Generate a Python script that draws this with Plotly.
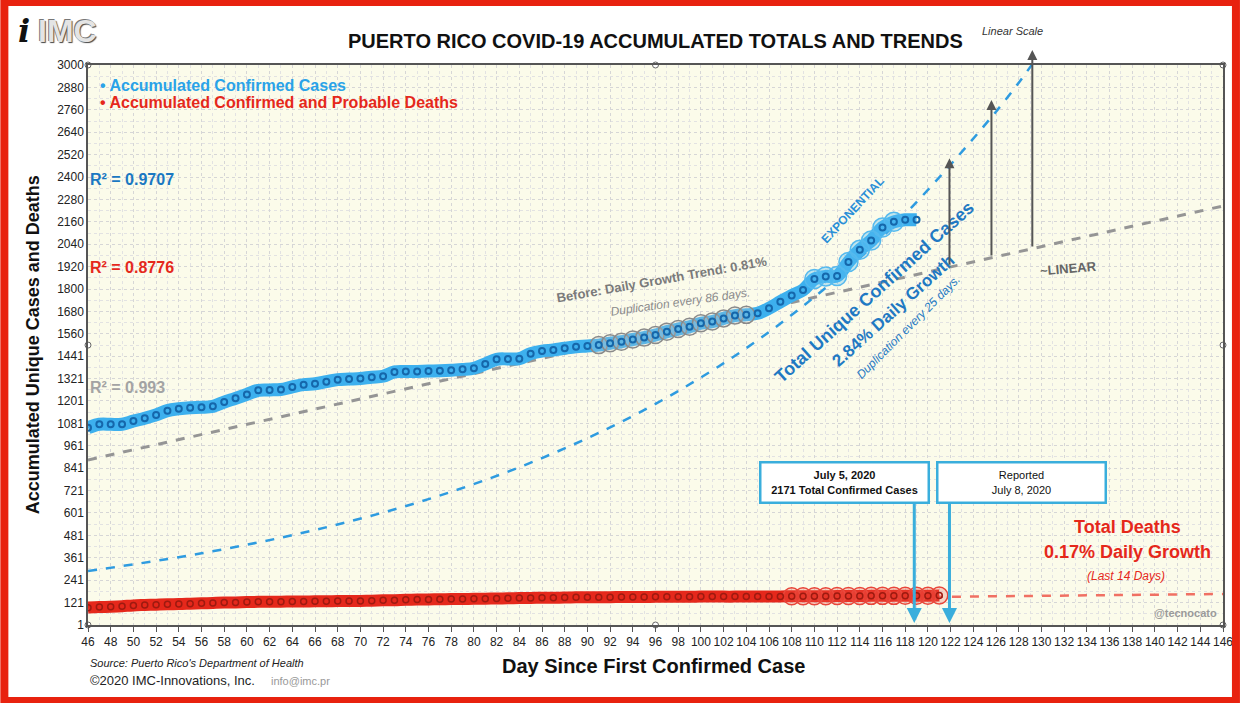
import plotly.graph_objects as go

# ---------------- data ----------------
case_days = list(range(46, 120))
cases = [1057, 1076, 1076, 1076, 1093, 1108, 1126, 1149, 1159, 1165,
         1167, 1172, 1195, 1215, 1236, 1258, 1260, 1262, 1276, 1288,
         1293, 1304, 1315, 1318, 1321, 1328, 1333, 1356, 1358, 1359,
         1361, 1362, 1365, 1370, 1376, 1399, 1424, 1426, 1427, 1454,
         1468, 1474, 1483, 1491, 1495, 1500, 1510, 1518, 1530, 1540,
         1554, 1572, 1586, 1598, 1617, 1626, 1643, 1658, 1662, 1670,
         1697, 1732, 1766, 1795, 1854, 1868, 1870, 1945, 2010, 2060,
         2130, 2160, 2171, 2171]

death_days = list(range(46, 122))
deaths = [94, 97, 99, 102, 106, 108, 110, 112, 113, 115,
          117, 119, 121, 122, 124, 125, 126, 126, 127, 127,
          128, 128, 129, 129, 130, 131, 133, 134, 136, 137,
          138, 139, 140, 140, 141, 142, 143, 144, 145, 146,
          147, 147, 148, 149, 150, 150, 150, 151, 151, 151,
          152, 152, 152, 152, 153, 153, 153, 153, 154, 154,
          154, 154, 155, 155, 155, 155, 156, 156, 156, 157,
          157, 157, 158, 158, 158, 159]

grey_circle_days = list(range(91, 105))
blue_circle_days = list(range(110, 118))
red_circle_days = list(range(108, 122))

linear_days = [46, 146]
linear_trend = [885, 2245]

exp_days = [46, 56, 66, 76, 86, 96, 106, 116, 126, 129.5]
exp_trend = [290, 385, 510, 675, 895, 1185, 1570, 2080, 2750, 3030]

death_trend_days = [46, 146]
death_trend = [106, 167]

y_ticks = [1, 121, 241, 361, 481, 601, 721, 841, 961, 1081, 1201, 1321, 1441,
           1560, 1680, 1800, 1920, 2040, 2160, 2280, 2400, 2520, 2640, 2760, 2880, 3000]

# ---------------- layout helpers ----------------
W, H = 1245, 703
ML, MR, MT, MB = 88, 17, 65, 78
PW, PH = W - ML - MR, H - MT - MB


def px(x):
    return (x - ML) / PW


def py(y):
    return (H - MB - y) / PH


FONT = "Liberation Sans, Arial, Helvetica, sans-serif"
BLUE_BAND = "#3db0ee"
BLUE_DARK = "#1567ab"
RED = "#e5281b"
GREY = "#959595"

fig = go.Figure()

# trend lines
fig.add_trace(go.Scatter(x=linear_days, y=linear_trend, mode="lines",
                         line=dict(color=GREY, width=3, dash="dash"), hoverinfo="skip"))
fig.add_trace(go.Scatter(x=exp_days, y=exp_trend, mode="lines",
                         line=dict(color="#2e9be0", width=2.5, dash="dash", shape="spline"),
                         hoverinfo="skip"))
fig.add_trace(go.Scatter(x=death_trend_days, y=death_trend, mode="lines",
                         line=dict(color="#f07063", width=2.5, dash="dash"), hoverinfo="skip"))

# bands
fig.add_trace(go.Scatter(x=death_days, y=deaths, mode="lines",
                         line=dict(color=RED, width=12, shape="spline"), hoverinfo="skip"))
fig.add_trace(go.Scatter(x=case_days, y=cases, mode="lines",
                         line=dict(color=BLUE_BAND, width=13, shape="spline"), hoverinfo="skip"))

# highlighted circles
gx = [d for d in grey_circle_days]
gy = [cases[case_days.index(d)] for d in grey_circle_days]
fig.add_trace(go.Scatter(x=gx, y=gy, mode="markers",
                         marker=dict(symbol="circle", size=17, color="rgba(200,200,200,0.25)",
                                     line=dict(color="#8a8a8a", width=1.5)), hoverinfo="skip"))
bx = [d for d in blue_circle_days]
by = [cases[case_days.index(d)] for d in blue_circle_days]
fig.add_trace(go.Scatter(x=bx, y=by, mode="markers",
                         marker=dict(symbol="circle", size=19, color="rgba(90,190,240,0.35)",
                                     line=dict(color="#55b9ee", width=1.5)), hoverinfo="skip"))
rx = [d for d in red_circle_days]
ry = [deaths[death_days.index(d)] for d in red_circle_days]
fig.add_trace(go.Scatter(x=rx, y=ry, mode="markers",
                         marker=dict(symbol="circle", size=17, color="rgba(240,90,80,0.25)",
                                     line=dict(color="#e8463a", width=1.5)), hoverinfo="skip"))

# point markers
fig.add_trace(go.Scatter(x=death_days, y=deaths, mode="markers",
                         marker=dict(symbol="circle-open", size=6, color="#9e1a10", line=dict(width=1.5)),
                         hoverinfo="skip"))
fig.add_trace(go.Scatter(x=case_days, y=cases, mode="markers",
                         marker=dict(symbol="circle-open", size=6, color=BLUE_DARK, line=dict(width=2)),
                         hoverinfo="skip"))

# selection handles on the frame
fig.add_trace(go.Scatter(x=[46, 96, 146, 46, 146, 46, 96, 146],
                         y=[3000, 3000, 3000, 1500, 1500, 1, 1, 1], mode="markers",
                         marker=dict(symbol="circle", size=6, color="white",
                                     line=dict(color="#666", width=1)),
                         cliponaxis=False, hoverinfo="skip"))

ann = []


def text(x, y, t, size=12, color="#222", bold=False, italic=False, angle=0, xanchor="center",
         yanchor="middle", family=FONT):
    s = t
    if bold:
        s = "<b>" + s + "</b>"
    if italic:
        s = "<i>" + s + "</i>"
    ann.append(dict(x=px(x), y=py(y), xref="paper", yref="paper", text=s, showarrow=False,
                    textangle=angle, xanchor=xanchor, yanchor=yanchor,
                    font=dict(size=size, color=color, family=family)))


# title & labels
text(658, 41, "PUERTO RICO COVID-19 ACCUMULATED TOTALS AND TRENDS", size=20, color="#111", bold=True)
text(1017, 31, "Linear Scale", size=11, color="#333", italic=True)
text(98, 86, "• Accumulated Confirmed Cases", size=16, color="#2aa3e8", bold=True, xanchor="left")
text(98, 102, "• Accumulated Confirmed and Probable Deaths", size=16, color=RED, bold=True, xanchor="left")
text(88, 179, "R² = 0.9707", size=16, color="#1a78c2", bold=True, xanchor="left")
text(88, 267, "R² = 0.8776", size=16, color=RED, bold=True, xanchor="left")
text(88, 387, "R² = 0.993", size=16, color="#a3a3a3", bold=True, xanchor="left")
text(665, 279, "Before: Daily Growth Trend: 0.81%", size=13, color="#7a7a7a", bold=True, angle=-10)
text(683, 302, "Duplication every 86 days.", size=12, color="#8a8a8a", italic=True, angle=-8)
text(856, 210, "EXPONENTIAL", size=12, color="#2a8fd8", bold=True, angle=-47)
text(878, 292, "Total Unique Confirmed Cases", size=18, color="#1f79c3", bold=True, angle=-42)
text(897, 310, "2.84% Daily Growth", size=17, color="#1f79c3", bold=True, angle=-42)
text(912, 327, "Duplication every 25 days.", size=12, color="#1f79c3", italic=True, angle=-45)
text(1073, 268, "~LINEAR", size=13, color="#666", bold=True, angle=-5)
text(1132, 527, "Total Deaths", size=18, color=RED, bold=True)
text(1132, 552, "0.17% Daily Growth", size=18, color=RED, bold=True)
text(1131, 576, "(Last 14 Days)", size=12, color=RED, italic=True)
text(1224, 613, "@tecnocato", size=11, color="#9a9a9a", bold=True, xanchor="right")
text(88, 663, "Source: Puerto Rico's Department of Health", size=11, color="#222", italic=True, xanchor="left")
text(88, 680, "©2020 IMC-Innovations, Inc.", size=13, color="#222", xanchor="left")
text(270, 681, "info@imc.pr", size=11, color="#999", xanchor="left")
text(656, 666, "Day Since First Confirmed Case", size=20, color="#111", bold=True)
text(33, 345, "Accumulated Unique Cases and Deaths", size=18, color="#111", bold=True, angle=-90)

# logo
ann.append(dict(x=px(16), y=py(31), xref="paper", yref="paper", text="<b><i>i</i></b>",
                showarrow=False, xanchor="left", yanchor="middle",
                font=dict(size=32, color="#111", family="DejaVu Serif")))
ann.append(dict(x=px(36), y=py(31), xref="paper", yref="paper", text="<b>IMC</b>",
                showarrow=False, xanchor="left", yanchor="middle",
                font=dict(size=32, color="#e4e4e4", family=FONT,
                          shadow="1px 1px 1px #444, -1px -1px 0px #777")))

# callout boxes
ann.append(dict(x=px(848), y=py(482), xref="paper", yref="paper", xanchor="center", yanchor="middle",
                text="<b>July 5, 2020<br>2171 Total Confirmed Cases</b>", showarrow=False,
                font=dict(size=11, color="#111", family=FONT), bgcolor="white",
                bordercolor="#3aaedc", borderwidth=2.5, borderpad=3, width=160, height=32))
ann.append(dict(x=px(1026), y=py(482), xref="paper", yref="paper", xanchor="center", yanchor="middle",
                text="Reported<br>July 8, 2020", showarrow=False,
                font=dict(size=11, color="#111", family=FONT), bgcolor="white",
                bordercolor="#3aaedc", borderwidth=2.5, borderpad=3, width=160, height=32))
for xd in (118.8, 121.9):
    ann.append(dict(x=xd, y=12, xref="x", yref="y", ax=xd, ay=660, axref="x", ayref="y",
                    text="", showarrow=True, arrowhead=2, arrowsize=1, arrowwidth=3,
                    arrowcolor="#3aaedc"))

# grey growth arrows
for xd, base, tip in ((121.9, 1922, 2500), (125.6, 1972, 2812), (129.2, 2020, 3080)):
    ann.append(dict(x=xd, y=tip, xref="x", yref="y", ax=xd, ay=base, axref="x", ayref="y",
                    text="", showarrow=True, arrowhead=2, arrowsize=1, arrowwidth=2,
                    arrowcolor="#555"))

shapes = [
    dict(type="rect", xref="paper", yref="paper", x0=px(4), x1=px(1241), y0=py(701), y1=py(2),
         line=dict(color="#e8220f", width=8), fillcolor="rgba(0,0,0,0)", layer="above"),
]

fig.update_layout(
    width=W, height=H,
    margin=dict(l=ML, r=MR, t=MT, b=MB),
    paper_bgcolor="white",
    plot_bgcolor="#fbfbea",
    showlegend=False,
    annotations=ann,
    shapes=shapes,
    font=dict(family=FONT, color="#222"),
    xaxis=dict(range=[46, 146], tickmode="linear", tick0=46, dtick=2, ticks="outside",
               ticklen=5, tickcolor="#555", showline=True, linecolor="#555", linewidth=1.5,
               mirror=True, showgrid=True, gridcolor="#d6d6d6", griddash="dot", gridwidth=1,
               zeroline=False, tickfont=dict(size=12, color="#222"),
               minor=dict(dtick=1, tick0=46, showgrid=True, gridcolor="#e2e2e2", griddash="dot")),
    yaxis=dict(range=[1, 3000], tickmode="array", tickvals=y_ticks,
               ticktext=[str(v) for v in y_ticks], showline=True, linecolor="#555", linewidth=1.5,
               mirror=True, showgrid=True, gridcolor="#d6d6d6", griddash="dot", zeroline=False,
               tickfont=dict(size=12, color="#222"), ticks="",
               minor=dict(tickvals=[(a + b) / 2 for a, b in zip(y_ticks[:-1], y_ticks[1:])],
                          showgrid=True, gridcolor="#e2e2e2", griddash="dot")),
)

fig.write_html("out.html", config={"displayModeBar": False},
               post_script="document.body.style.margin='0';document.body.style.padding='0';"
                           "document.documentElement.style.overflow='hidden';")
